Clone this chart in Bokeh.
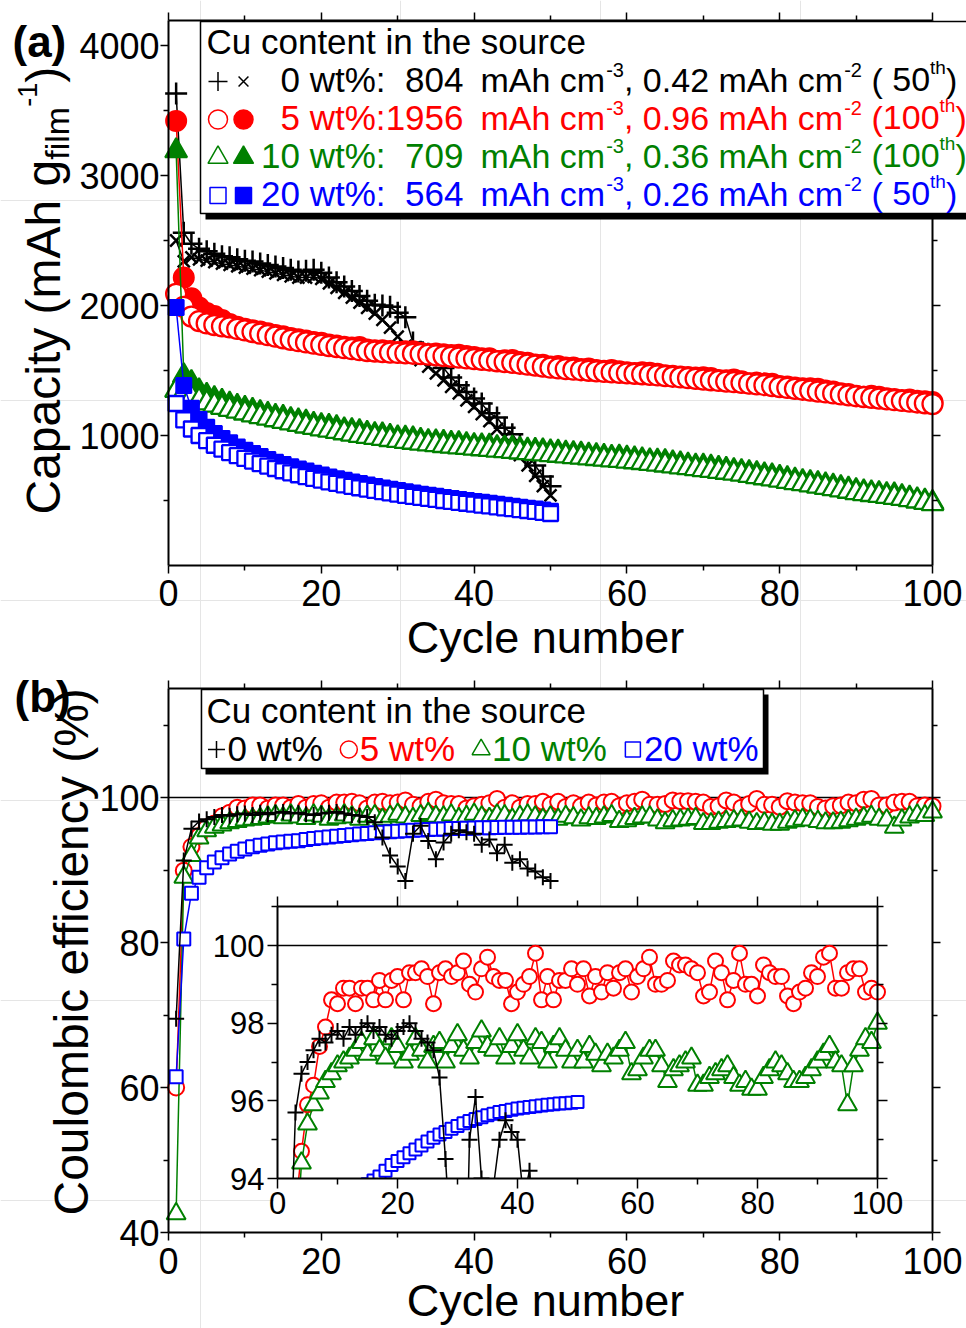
import math
from bokeh.plotting import figure
from bokeh.models import (Range1d, LinearAxis, FixedTicker, Label, BoxAnnotation,
                          ColumnDataSource, CustomJSTickFormatter)
from bokeh.embed import file_html
from bokeh.resources import INLINE

FONT = "Liberation Sans"
BLACK, RED, GREEN, BLUE = "#000000", "#ff0000", "#008000", "#0000ff"
COLORS = [BLACK, RED, GREEN, BLUE]

# ---------------- data ----------------
CYCLES_100 = list(range(1, 101))
CYCLES_50 = list(range(1, 51))

# (a) capacity, mAh g_film^-1
BLACK_DISCHARGE = [3630, 2560, 2475, 2436, 2417, 2398, 2379, 2372, 2356, 2344,
                   2339, 2323, 2312, 2300, 2288, 2275, 2262, 2268, 2275, 2252,
                   2215, 2178, 2146, 2112, 2074, 2037, 2006, 2000, 1990, 1945,
                   1910, 1716, 1644, 1628, 1615, 1519, 1447, 1387, 1335, 1284,
                   1246, 1172, 1138, 1059, 1010, 930, 855, 770, 685, 610]
BLACK_CHARGE = [2500, 2340, 2370, 2355, 2345, 2333, 2322, 2312, 2302, 2292,
                2283, 2272, 2260, 2248, 2236, 2225, 2215, 2215, 2220, 2205,
                2170, 2135, 2098, 2060, 2022, 1982, 1938, 1890, 1830, 1760,
                1690, 1630, 1580, 1530, 1478, 1425, 1375, 1325, 1270, 1220,
                1165, 1110, 1050, 990, 920, 850, 770, 690, 610, 540]
RED_DISCHARGE = [3420, 2215, 2055, 1985, 1942, 1919, 1889, 1858, 1836, 1822,
                 1810, 1800, 1786, 1774, 1764, 1750, 1741, 1730, 1720, 1714,
                 1700, 1692, 1682, 1677, 1681, 1662, 1656, 1656, 1650, 1642,
                 1648, 1648, 1636, 1627, 1630, 1625, 1619, 1621, 1612, 1604,
                 1595, 1595, 1574, 1578, 1581, 1566, 1559, 1547, 1545, 1531,
                 1535, 1523, 1524, 1512, 1515, 1504, 1499, 1504, 1494, 1487,
                 1480, 1486, 1482, 1475, 1463, 1460, 1454, 1450, 1446, 1449,
                 1442, 1426, 1425, 1430, 1418, 1402, 1407, 1401, 1398, 1380,
                 1376, 1370, 1363, 1363, 1359, 1347, 1339, 1325, 1320, 1306,
                 1299, 1305, 1298, 1287, 1280, 1274, 1276, 1268, 1263, 1258]
RED_CHARGE = [2090, 1990, 1915, 1880, 1862, 1850, 1840, 1832, 1820, 1808,
              1796, 1784, 1772, 1760, 1748, 1736, 1726, 1716, 1706, 1697,
              1688, 1680, 1672, 1664, 1656, 1650, 1646, 1642, 1638, 1635,
              1632, 1629, 1626, 1622, 1617, 1611, 1605, 1599, 1593, 1588,
              1582, 1577, 1571, 1565, 1559, 1552, 1545, 1538, 1530, 1522,
              1516, 1511, 1506, 1502, 1498, 1494, 1490, 1486, 1482, 1478,
              1475, 1471, 1467, 1462, 1457, 1452, 1447, 1441, 1436, 1430,
              1425, 1420, 1415, 1410, 1405, 1399, 1393, 1387, 1380, 1373,
              1366, 1359, 1352, 1345, 1338, 1331, 1324, 1316, 1309, 1302,
              1296, 1290, 1284, 1278, 1272, 1266, 1260, 1254, 1248, 1242]
GREEN_DISCHARGE = [3190, 1460, 1408, 1345, 1310, 1285, 1263, 1243, 1226, 1210,
                   1194, 1178, 1163, 1149, 1140, 1123, 1114, 1104, 1087, 1078,
                   1072, 1061, 1045, 1038, 1031, 1018, 1009, 1006, 994, 984,
                   981, 976, 964, 955, 953, 948, 940, 939, 931, 923,
                   922, 919, 909, 905, 904, 895, 888, 886, 884, 875,
                   873, 865, 861, 859, 851, 847, 840, 833, 835, 828,
                   821, 813, 807, 805, 800, 790, 783, 774, 766, 765,
                   758, 748, 740, 732, 724, 716, 708, 698, 690, 680,
                   669, 658, 647, 639, 631, 622, 611, 600, 589, 577,
                   568, 560, 555, 547, 545, 532, 519, 507, 497, 485]
GREEN_CHARGE = [1346, 1330, 1295, 1270, 1250, 1232, 1215, 1200, 1186, 1172,
                1158, 1144, 1132, 1120, 1108, 1096, 1084, 1072, 1061, 1050,
                1040, 1030, 1020, 1010, 1000, 992, 984, 976, 968, 961,
                954, 947, 940, 934, 928, 922, 917, 912, 907, 902,
                897, 892, 887, 882, 877, 872, 867, 862, 857, 852,
                847, 842, 837, 832, 827, 822, 817, 812, 807, 802,
                797, 791, 785, 779, 772, 765, 758, 751, 744, 737,
                730, 723, 716, 709, 702, 692, 683, 674, 665, 655,
                646, 637, 628, 619, 610, 600, 590, 580, 570, 560,
                552, 545, 538, 530, 523, 515, 505, 495, 485, 475]
BLUE_DISCHARGE = [1985, 1385, 1210, 1124, 1063, 1015, 976, 944, 912, 887,
                  862, 838, 816, 795, 776, 759, 742, 726, 710, 696,
                  681, 668, 655, 643, 630, 619, 608, 597, 586, 577,
                  567, 558, 549, 540, 532, 523, 516, 508, 500, 493,
                  486, 478, 471, 464, 456, 449, 441, 434, 426, 417]
BLUE_CHARGE = [1246, 1120, 1050, 1000, 960, 925, 895, 868, 845, 824,
               803, 783, 764, 746, 729, 713, 698, 684, 670, 657,
               644, 632, 620, 609, 598, 588, 578, 568, 558, 549,
               540, 532, 524, 516, 508, 500, 493, 486, 479, 472,
               465, 458, 451, 444, 437, 430, 423, 416, 409, 400]

# (b) coulombic efficiency, %
BLACK_CE = [69.5, 91.3, 95.7, 96.7, 97.0, 97.3, 97.6, 97.5, 97.7, 97.8,
            97.6, 97.9, 97.7, 97.9, 98.0, 97.8, 97.9, 97.7, 97.6, 97.8,
            97.9, 98.0, 97.8, 97.6, 97.5, 97.3, 96.6, 94.5, 92.0, 90.5,
            88.5, 95.0, 96.1, 94.0, 91.5, 93.8, 95.0, 95.5, 95.2, 95.0,
            93.5, 94.2, 92.3, 93.5, 91.0, 91.5, 90.2, 89.8, 89.0, 88.5]
RED_CE = [60.0, 89.9, 93.2, 94.7, 95.9, 96.4, 97.4, 97.9, 98.6, 98.5,
          98.9, 98.9, 98.5, 98.9, 98.9, 98.6, 99.1, 98.6, 99.1, 99.2,
          98.6, 99.3, 99.3, 99.4, 99.2, 98.5, 99.3, 99.4, 99.2, 99.3,
          99.6, 99.0, 98.8, 99.4, 99.7, 99.2, 99.1, 99.1, 98.5, 98.8,
          99.0, 99.2, 99.8, 98.6, 99.2, 98.6, 99.1, 99.1, 99.4, 99.0,
          99.4, 98.7, 99.2, 98.8, 99.3, 98.9, 99.3, 99.4, 98.8, 99.2,
          99.4, 99.7, 99.0, 99.0, 99.1, 99.6, 99.5, 99.5, 99.4, 99.3,
          98.7, 98.8, 99.6, 99.3, 98.6, 99.1, 99.8, 99.0, 99.0, 98.7,
          99.5, 99.3, 99.2, 99.2, 98.7, 98.5, 98.8, 98.9, 99.3, 99.2,
          99.7, 99.8, 98.9, 98.9, 99.3, 99.4, 99.4, 98.8, 98.9, 98.8]
GREEN_CE = [42.6, 89.0, 92.0, 94.4, 95.4, 95.9, 96.2, 96.5, 96.7, 96.9,
            97.0, 97.1, 97.3, 97.5, 97.2, 97.6, 97.3, 97.1, 97.6, 97.4,
            97.0, 97.2, 97.6, 97.3, 97.0, 97.4, 97.5, 97.0, 97.4, 97.7,
            97.3, 97.1, 97.5, 97.8, 97.4, 97.3, 97.6, 97.1, 97.4, 97.7,
            97.3, 97.1, 97.6, 97.5, 97.0, 97.4, 97.6, 97.3, 97.0, 97.3,
            97.0, 97.4, 97.2, 96.9, 97.2, 97.1, 97.3, 97.5, 96.7, 96.8,
            97.1, 97.3, 97.3, 96.9, 96.5, 96.8, 96.9, 97.0, 97.1, 96.4,
            96.4, 96.6, 96.7, 96.8, 96.9, 96.6, 96.4, 96.5, 96.3, 96.3,
            96.6, 96.8, 97.0, 96.9, 96.7, 96.5, 96.5, 96.6, 96.8, 97.0,
            97.2, 97.4, 97.0, 96.9, 95.9, 96.9, 97.3, 97.6, 97.5, 98.0]
BLUE_CE = [61.5, 80.5, 86.8, 89.0, 90.3, 91.1, 91.7, 92.2, 92.6, 92.9,
           93.2, 93.4, 93.6, 93.75, 93.85, 93.95, 94.05, 94.2, 94.35, 94.45,
           94.55, 94.65, 94.75, 94.85, 94.95, 95.05, 95.13, 95.2, 95.28, 95.35,
           95.42, 95.48, 95.53, 95.58, 95.63, 95.67, 95.71, 95.74, 95.77, 95.8,
           95.82, 95.84, 95.86, 95.88, 95.9, 95.91, 95.93, 95.94, 95.95, 95.97]

# ticks
X_TICKS = [0, 20, 40, 60, 80, 100]
X_MINOR = [10, 30, 50, 70, 90]
CAP_TICKS = [1000, 2000, 3000, 4000]
CAP_MINOR = [500, 1500, 2500, 3500]
CE_TICKS = [40, 60, 80, 100]
CE_MINOR = [50, 70, 90, 110]
INSET_X_TICKS = [0, 20, 40, 60, 80, 100]
INSET_X_MINOR = [10, 30, 50, 70, 90]
INSET_Y_TICKS = [94, 96, 98, 100]
INSET_Y_MINOR = [95, 97, 99, 101]

# legend texts
LEG_CONTENT = ["0", "5", "10", "20"]
LEG_VOL = ["804", "1956", "709", "564"]
LEG_AREA = ["0.42", "0.96", "0.36", "0.26"]
LEG_CYCLE = ["50", "100", "100", "50"]

# ---------------- geometry (page pixels) ----------------
W, H = 966, 1328
FRAME_L, FRAME_R = 168, 932
A_TOP, A_BOT = 20, 565
B_TOP, B_BOT = 688, 1232
SX = (FRAME_R - FRAME_L) / 100.0          # px per cycle
SA = (A_BOT - 45) / 4000.0                # px per mAh/g
SB = (B_BOT - 797) / 60.0                 # px per %
CAP_TOP = (A_BOT - A_TOP) / SA
CE_TOP = 40 + (B_BOT - B_TOP) / SB
IX0, IX100 = 277, 877
IY94, IY100 = 1178, 945
ISX = (IX100 - IX0) / 100.0
ISY = (IY94 - IY100) / 6.0

AW = {' ': 278, '%': 889, '(': 333, ')': 333, ',': 278, '-': 333, '.': 278,
      ':': 278, 'A': 667, 'C': 722, 'a': 556, 'b': 556, 'c': 500, 'e': 556,
      'f': 278, 'g': 556, 'h': 556, 'i': 222, 'l': 222, 'm': 833, 'n': 556,
      'o': 556, 'p': 556, 'r': 333, 's': 500, 't': 278, 'u': 556, 'w': 722,
      'y': 500}


def tw(s, size):
    return sum(AW.get(c, 556) for c in s) * size / 1000.0


def lin_x(v_ref, px_ref, scale):
    return Range1d(v_ref - px_ref / scale, v_ref + (W - px_ref) / scale)


def lin_y(v_ref, py_ref, scale):
    return Range1d(v_ref - (H - py_ref) / scale, v_ref + py_ref / scale)


fig = figure(width=W, height=H, x_range=Range1d(0, W), y_range=Range1d(H, 0),
             x_axis_location=None, y_axis_location=None, min_border=0,
             output_backend="svg", toolbar_location=None)
fig.outline_line_color = None
fig.background_fill_color = "white"
fig.border_fill_color = "white"
fig.extra_x_ranges = {"cx": lin_x(0, FRAME_L, SX), "ix": lin_x(0, IX0, ISX)}
fig.extra_y_ranges = {"ay": lin_y(0, A_BOT, SA), "by": lin_y(40, B_BOT, SB),
                      "iy": lin_y(94, IY94, ISY)}

A = dict(x_range_name="cx", y_range_name="ay")
B = dict(x_range_name="cx", y_range_name="by")
I = dict(x_range_name="ix", y_range_name="iy")


def add_label(x, y, text, size, color=BLACK, align="left", angle=0.0, bold=False):
    fig.add_layout(Label(x=x, y=y, text=text, text_font=FONT,
                         text_font_size=f"{size}px", text_color=color,
                         text_font_style="bold" if bold else "normal",
                         text_align=align, text_baseline="middle", angle=angle,
                         level="overlay"))


def add_axis(side, ranges, loc, bounds, ticks, minor, labels, size="36px",
             maj=8, mnr=5, standoff=2):
    ax = LinearAxis(fixed_location=loc, bounds=bounds,
                    ticker=FixedTicker(ticks=ticks, minor_ticks=minor), **ranges)
    ax.axis_line_width = 2
    ax.axis_line_color = BLACK
    ax.major_tick_line_width = 1.5
    ax.minor_tick_line_width = 1.5
    ax.major_tick_in = 0
    ax.major_tick_out = maj
    ax.minor_tick_in = 0
    ax.minor_tick_out = mnr
    ax.major_label_text_font = FONT
    ax.major_label_text_font_size = size
    ax.major_label_text_color = BLACK
    ax.major_label_standoff = standoff
    if not labels:
        ax.formatter = CustomJSTickFormatter(code="return ''")
    fig.add_layout(ax, side)


def series(xs, ys, color, marker, size, filled, rng, lw=1.5, mlw=2.0):
    src = ColumnDataSource(dict(x=xs, y=ys))
    fig.line("x", "y", source=src, line_color=color, line_width=lw, **rng)
    fig.scatter("x", "y", source=src, marker=marker, size=size, line_color=color,
                line_width=mlw, fill_color=color if filled else "white", **rng)


# ================= panel (a) data =================
series(CYCLES_50, BLACK_DISCHARGE, BLACK, "cross", 22, False, A, mlw=2.5)
series(CYCLES_50, BLACK_CHARGE, BLACK, "x", 17, False, A, mlw=2.5)
series(CYCLES_100, RED_DISCHARGE, RED, "circle", 20, True, A)
series(CYCLES_100, RED_CHARGE, RED, "circle", 20, False, A, mlw=2.3)
series(CYCLES_100, GREEN_DISCHARGE, GREEN, "triangle", 22, True, A)
series(CYCLES_100, GREEN_CHARGE, GREEN, "triangle", 22, False, A, mlw=2.3)
series(CYCLES_50, BLUE_DISCHARGE, BLUE, "square", 15, True, A)
series(CYCLES_50, BLUE_CHARGE, BLUE, "square", 15, False, A, mlw=2.3)

# ================= panel (b) data =================
fig.segment(x0=[0], y0=[100], x1=[100], y1=[100], line_color=BLACK, line_width=1.5, **B)
series(CYCLES_100, RED_CE, RED, "circle", 16, False, B)
series(CYCLES_100, GREEN_CE, GREEN, "triangle", 19, False, B)
series(CYCLES_50, BLUE_CE, BLUE, "square", 13, False, B)
series(CYCLES_50, BLACK_CE, BLACK, "cross", 16, False, B)

# ================= inset =================
fig.quad(left=[0], right=[100], bottom=[94], top=[101], fill_color="white",
         line_color=None, **I)
fig.segment(x0=[0], y0=[100], x1=[100], y1=[100], line_color=BLACK, line_width=1.5, **I)
series(CYCLES_100, RED_CE, RED, "circle", 15, False, I)
series(CYCLES_100, GREEN_CE, GREEN, "triangle", 19, False, I)
series(CYCLES_50, BLUE_CE, BLUE, "square", 12, False, I)
series(CYCLES_50, BLACK_CE, BLACK, "cross", 16, False, I)
# white strip under the inset, hides the parts of its lines below 94 %
fig.quad(left=[-0.6], right=[100.6], bottom=[fig.extra_y_ranges["iy"].start - 1], top=[94],
         fill_color="white", line_color=None, **I)

# ================= axes =================
add_axis("left", A, 0, (0, CAP_TOP), CAP_TICKS, CAP_MINOR, True, standoff=1)
add_axis("right", A, 100, (0, CAP_TOP), CAP_TICKS, CAP_MINOR, False)
add_axis("below", A, 0, (0, 100), X_TICKS, X_MINOR, True, standoff=6)
add_axis("above", A, CAP_TOP, (0, 100), X_TICKS, X_MINOR, False)

add_axis("left", B, 0, (40, CE_TOP), CE_TICKS, CE_MINOR, True, standoff=1)
add_axis("right", B, 100, (40, CE_TOP), CE_TICKS, CE_MINOR, False)
add_axis("below", B, 40, (0, 100), X_TICKS, X_MINOR, True, standoff=7)
add_axis("above", B, CE_TOP, (0, 100), X_TICKS, X_MINOR, False)

add_axis("left", I, 0, (94, 101), INSET_Y_TICKS, INSET_Y_MINOR, True, size="31px",
         maj=10, mnr=6, standoff=3)
add_axis("right", I, 100, (94, 101), INSET_Y_TICKS, INSET_Y_MINOR, False, maj=10, mnr=6)
add_axis("below", I, 94, (0, 100), INSET_X_TICKS, INSET_X_MINOR, True, size="31px",
         maj=10, mnr=6, standoff=3)
add_axis("above", I, 101, (0, 100), INSET_X_TICKS, INSET_X_MINOR, False, maj=10, mnr=6)

# ================= legend (a) =================
fig.add_layout(BoxAnnotation(left=205, right=1200, top=27, bottom=219,
                             fill_color=BLACK, fill_alpha=1.0, line_alpha=0.0))
fig.add_layout(BoxAnnotation(left=200, right=1200, top=21, bottom=213,
                             fill_color="white", fill_alpha=1.0,
                             line_color=BLACK, line_alpha=1.0, line_width=1.5))
LEG_A_Y0, LEG_STEP = 41, 38
FS = 34
add_label(206, LEG_A_Y0, "Cu content in the source", 35)
SYM_A = [("cross", "x", 19, 14), ("circle", "circle", 19, 19),
         ("triangle", "triangle", 20, 20), ("square", "square", 16, 16)]
for i in range(4):
    col = COLORS[i]
    yc = LEG_A_Y0 + LEG_STEP * (i + 1)
    m_open, m_fill, s1, s2 = SYM_A[i]
    fig.scatter([217.5], [yc + 2], marker=m_open, size=s1, line_color=col,
                line_width=1.5, fill_color="white", level="overlay")
    fig.scatter([243.0], [yc + 2], marker=m_fill, size=s2, line_color=col,
                line_width=1.5, fill_color=col if i > 0 else "white", level="overlay")
    add_label(385, yc, f"{LEG_CONTENT[i]} wt%:", 35, col, align="right")
    add_label(463, yc, LEG_VOL[i], 35, col, align="right")
    x = 480
    add_label(x, yc, "mAh cm", FS, col)
    x += tw("mAh cm", FS) + 1
    add_label(x, yc - 10, "-3", 20, col)
    x += tw("-3", 20)
    add_label(x, yc, ",", FS, col)
    x += tw(", ", FS)
    txt = f"{LEG_AREA[i]} mAh cm"
    add_label(x, yc, txt, FS, col)
    x += tw(txt, FS) + 1
    add_label(x, yc - 10, "-2", 20, col)
    x = 871
    add_label(x, yc, "(", FS, col)
    x += tw("(", FS) + tw(" ", FS) * (3 - len(LEG_CYCLE[i]))
    add_label(x, yc, LEG_CYCLE[i], FS, col)
    x += tw(LEG_CYCLE[i], FS)
    add_label(x, yc - 12, "th", 19, col)
    x += tw("th", 19)
    add_label(x, yc, ")", FS, col)

# ================= legend (b) =================
fig.add_layout(BoxAnnotation(left=205, right=768, top=694, bottom=774,
                             fill_color=BLACK, fill_alpha=1.0, line_alpha=0.0))
fig.add_layout(BoxAnnotation(left=201, right=763, top=689, bottom=768,
                             fill_color="white", fill_alpha=1.0,
                             line_color=BLACK, line_alpha=1.0, line_width=1.5))
add_label(206, 710, "Cu content in the source", 35)
SYM_B = [("cross", 17), ("circle", 17), ("triangle", 18), ("square", 15)]
x = 216
for i in range(4):
    col = COLORS[i]
    mk, sz = SYM_B[i]
    fig.scatter([x], [749], marker=mk, size=sz, line_color=col, line_width=1.5,
                fill_color="white", level="overlay")
    txt = f"{LEG_CONTENT[i]} wt%"
    add_label(x + 11, 748, txt, 35, col)
    x = x + 11 + tw(txt, 35) + 26

# ================= titles =================
add_label(12, 41, "(a)", 44, bold=True)
add_label(14, 696, "(b)", 44, bold=True)
add_label(545, 637, "Cycle number", 45, align="center")
add_label(545, 1300, "Cycle number", 45, align="center")
add_label(71, 1215, "Coulombic efficiency (%)", 48, angle=math.pi / 2)
TITLE_A_RUNS = [("Capacity (mAh g", 48, 43), ("film", 34, 56), ("-1", 27, 27), (")", 48, 43)]
cy = 514
for text, size, xc in TITLE_A_RUNS:
    for j, word in enumerate(text.split(" ")):
        if j:
            cy -= tw(" ", size)
        add_label(xc, cy, word, size, angle=math.pi / 2)
        cy -= tw(word, size)

open("out.html", "w").write(file_html(fig, INLINE, "Capacity and coulombic efficiency"))
